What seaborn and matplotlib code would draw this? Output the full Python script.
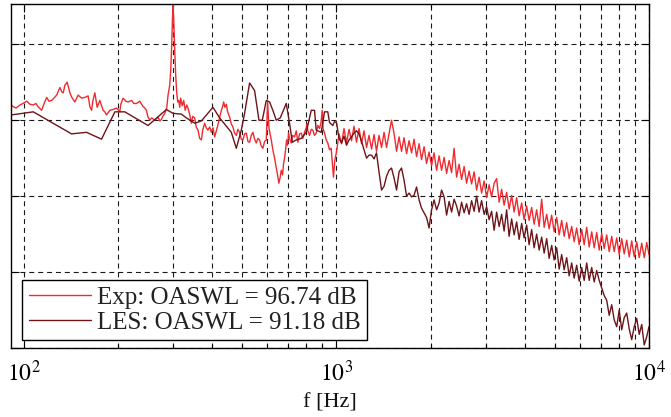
import numpy as np
import pandas as pd
import matplotlib
matplotlib.use("Agg")
import matplotlib.pyplot as plt
import seaborn as sns
from matplotlib.ticker import LogLocator, NullFormatter, FixedLocator

sns.set_theme(style="white")
plt.rcParams['font.family'] = ['Liberation Serif', 'DejaVu Serif']
plt.rcParams['mathtext.fontset'] = 'stix'

# ---------------- data ----------------
legend_labels = ["Exp: OASWL = 96.74 dB", "LES: OASWL = 91.18 dB"]

exp_low_freq = [90.2, 92.2, 94.3, 97.1, 99.3, 102.0, 104.5, 107.1, 109.2, 110.8,
                113.9, 115.8, 118.2, 120.2, 122.6, 124.7, 127.2, 130.3, 132.3, 133.6,
                135.2, 137.5, 140.3, 142.3, 145.5, 149.1, 152.9, 156.6, 160.5, 162.5,
                164.6, 166.2, 168.6, 171.5, 174.9, 177.5, 179.2, 181.5, 183.7, 188.3,
                192.4, 197.8, 202.6, 204.1, 207.6, 211.8, 215.4, 220.9, 224.6, 229.1,
                234.7, 240.5, 243.6, 246.6, 249.0, 252.7, 256.4, 262.2, 268.6, 272.0,
                275.4, 278.0, 282.2, 286.3, 289.1, 292.7, 294.9, 297.0, 298.6, 300.0,
                301.5, 303.7, 305.9, 308.2, 310.5, 312.8, 315.1, 317.4, 320.9, 324.5,
                328.1, 331.7, 334.9, 339.2, 343.4, 346.7, 351.8, 355.7, 360.5, 365.0,
                369.6, 373.2, 378.7, 382.9, 388.0, 392.9, 397.8, 402.5, 407.6, 412.7,
                417.7, 422.9, 428.2, 432.3, 435.5, 439.6, 444.2, 448.5, 455.1, 460.8,
                466.3, 472.1, 478.1, 483.7, 489.8, 496.0, 501.9, 508.2, 514.6, 520.7,
                527.2, 533.8, 540.3, 547.0, 553.9, 560.5, 567.5, 574.6, 581.4, 588.8,
                596.2, 602.0, 608.5, 618.5, 625.8, 633.7, 641.6, 647.8, 654.1, 659.8,
                665.8, 672.2, 677.2, 682.2, 687.3, 692.4, 697.5, 702.6, 707.7, 716.8,
                723.6, 734.4, 743.5, 752.4, 761.8, 771.3, 780.4, 790.3, 800.2, 805.0,
                809.7, 819.9, 830.3, 840.1, 850.6, 861.3, 871.6, 882.6, 892.4, 900.2,
                905.6, 915.7, 927.1, 938.1, 949.9, 961.8, 971.0, 978.1, 987.6]
exp_low_level = [62.2, 61.8, 61.6, 62.0, 62.2, 62.5, 62.1, 62.0, 62.2, 61.8,
                 61.3, 62.1, 63.0, 62.5, 62.6, 62.9, 63.3, 64.3, 63.7, 63.6,
                 64.6, 65.0, 63.6, 63.0, 62.4, 63.3, 62.9, 63.0, 63.2, 61.8,
                 61.3, 62.6, 63.6, 61.7, 62.6, 61.8, 61.3, 61.1, 60.7, 61.3,
                 61.4, 61.6, 61.1, 62.1, 62.9, 62.5, 62.4, 62.6, 62.2, 62.2,
                 62.5, 61.8, 61.6, 61.3, 60.5, 60.0, 60.3, 60.0, 60.4, 59.9,
                 60.1, 60.5, 60.9, 61.6, 63.3, 64.6, 66.6, 69.9, 73.2, 75.1,
                 73.2, 69.2, 65.9, 63.6, 62.4, 62.6, 61.7, 62.9, 61.9, 62.6,
                 61.3, 62.0, 61.6, 60.7, 59.6, 60.5, 60.3, 59.1, 58.7, 57.6,
                 57.4, 58.7, 59.6, 59.0, 58.7, 59.1, 58.4, 59.0, 57.8, 58.6,
                 59.4, 60.4, 61.3, 61.8, 62.4, 61.7, 62.1, 61.1, 60.4, 59.5,
                 59.1, 58.3, 58.0, 58.8, 58.4, 57.5, 57.4, 58.2, 58.3, 57.2,
                 57.1, 58.0, 58.4, 57.5, 57.0, 57.6, 57.4, 56.6, 56.3, 57.2,
                 57.4, 62.4, 58.9, 57.4, 56.1, 55.0, 53.8, 52.8, 51.7, 52.4,
                 53.4, 52.8, 54.3, 55.0, 56.1, 57.4, 56.7, 58.3, 57.6, 57.0,
                 58.0, 57.8, 58.6, 57.1, 58.2, 58.3, 57.6, 58.4, 59.0, 59.5,
                 58.6, 58.0, 58.8, 58.7, 58.0, 58.3, 59.3, 58.9, 59.7, 61.3,
                 58.9, 58.3, 57.4, 57.0, 56.1, 56.3, 54.1, 52.5, 54.7]

les_low_freq = [91.4, 107.1, 142.0, 158.6, 177.1, 195.4, 210.2, 249.5, 285.6, 300.0,
                319.0, 331.0, 351.8, 369.6, 402.5, 422.9, 460.8, 478.1, 496.0, 508.2,
                527.2, 547.0, 564.9, 579.0, 596.2, 610.8, 625.8, 641.6, 660.8, 690.8,
                707.7, 722.1, 743.5, 771.3, 800.2, 830.3, 850.6, 861.3, 893.6, 915.7,
                938.1, 949.9, 973.2, 985.4]
les_low_level = [60.7, 61.1, 58.2, 58.4, 57.5, 61.1, 61.1, 59.3, 61.4, 60.9,
                 60.8, 60.3, 59.6, 59.9, 61.7, 60.3, 58.4, 56.3, 58.7, 60.9,
                 64.9, 63.9, 60.0, 60.0, 62.6, 62.4, 61.3, 60.0, 60.3, 62.2,
                 59.6, 57.1, 57.4, 57.6, 58.4, 61.3, 61.3, 58.7, 58.4, 61.1,
                 61.1, 59.7, 59.3, 59.8]

hi_freq = [1000, 1019, 1038, 1057, 1077, 1097, 1117, 1138, 1159, 1181,
           1203, 1225, 1248, 1271, 1295, 1319, 1343, 1368, 1394, 1420,
           1446, 1473, 1500, 1528, 1557, 1586, 1615, 1645, 1676, 1707,
           1739, 1771, 1804, 1838, 1872, 1907, 1942, 1978, 2015, 2052,
           2091, 2130, 2169, 2210, 2251, 2293, 2335, 2379, 2423, 2468,
           2514, 2561, 2608, 2657, 2706, 2757, 2808, 2860, 2913, 2968,
           3023, 3079, 3136, 3195, 3254, 3315, 3376, 3439, 3503, 3568,
           3635, 3702, 3771, 3841, 3913, 3985, 4060, 4135, 4212, 4290,
           4370, 4452, 4534, 4619, 4705, 4792, 4881, 4972, 5065, 5159,
           5255, 5353, 5452, 5554, 5657, 5762, 5869, 5979, 6090, 6203,
           6319, 6436, 6556, 6678, 6802, 6929, 7057, 7189, 7322, 7459,
           7597, 7739, 7883, 8029, 8179, 8331, 8486, 8644, 8804, 8968,
           9135, 9305, 9478, 9654, 9834, 10000]
exp_hi_level = [55.8, 58.2, 56.9, 58.9, 57.0, 58.8, 57.3, 59.2, 57.1, 58.9,
                56.9, 58.6, 56.4, 58.0, 56.2, 58.1, 55.9, 58.0, 56.4, 58.4,
                56.4, 58.2, 60.0, 58.3, 55.9, 57.8, 55.9, 57.7, 55.6, 57.3,
                55.7, 57.5, 55.2, 56.9, 54.8, 56.5, 54.3, 55.8, 54.0, 55.7,
                53.4, 55.3, 53.4, 55.1, 53.0, 54.7, 53.1, 56.3, 52.5, 54.2,
                52.2, 53.9, 51.7, 53.3, 51.6, 53.2, 50.8, 52.5, 50.4, 52.0,
                49.8, 51.5, 49.9, 51.7, 52.3, 49.2, 50.9, 48.8, 50.5, 48.3,
                50.1, 47.9, 49.8, 47.4, 49.1, 46.9, 48.7, 46.8, 48.5, 46.3,
                48.2, 46.0, 49.6, 45.9, 47.6, 45.7, 47.5, 45.3, 47.2, 44.9,
                46.8, 44.7, 46.5, 44.4, 46.0, 44.0, 45.8, 43.6, 45.6, 43.6,
                45.9, 43.3, 45.3, 43.2, 45.2, 42.9, 45.1, 43.1, 44.9, 42.7,
                44.7, 42.7, 44.5, 42.3, 44.4, 42.4, 44.2, 42.0, 44.1, 42.0,
                44.0, 41.9, 43.8, 41.9, 43.9, 42.3]
les_hi_level = [59.7, 57.6, 57.0, 57.9, 56.7, 57.4, 57.8, 58.3, 58.6, 58.2,
                57.2, 56.1, 55.0, 55.4, 55.4, 54.9, 55.7, 53.2, 50.8, 51.3,
                52.6, 53.4, 53.7, 52.4, 50.8, 53.2, 53.7, 52.1, 50.0, 50.4,
                49.9, 50.1, 51.2, 49.5, 48.4, 47.8, 47.2, 45.8, 48.2, 49.5,
                48.2, 49.1, 50.8, 49.9, 47.5, 49.3, 47.9, 49.6, 48.7, 47.4,
                49.2, 47.8, 49.0, 47.6, 49.4, 48.0, 50.0, 47.9, 49.4, 47.6,
                48.6, 46.9, 48.0, 45.5, 47.9, 46.0, 47.6, 45.4, 48.2, 44.7,
                47.0, 44.9, 46.6, 44.3, 46.4, 44.5, 46.2, 43.6, 45.6, 43.2,
                45.0, 42.9, 44.6, 42.5, 44.4, 41.8, 43.5, 41.6, 43.2, 40.4,
                42.3, 40.3, 41.9, 39.5, 41.2, 39.2, 40.9, 38.8, 40.6, 38.9,
                41.2, 38.9, 40.6, 38.7, 40.2, 38.9, 37.9, 36.9, 36.3, 34.3,
                35.7, 33.7, 32.8, 35.0, 32.4, 34.0, 34.6, 32.5, 31.1, 32.8,
                33.9, 31.8, 33.1, 30.4, 31.5, 32.8]

x_ticks = [100, 1000, 10000]
x_tick_labels = ["$10^{2}$", "$10^{3}$", "$10^{4}$"]
y_grid = [30, 40, 50, 60, 70]

# ---------------- build table ----------------
df = pd.concat([
    pd.DataFrame({"f": exp_low_freq + hi_freq, "L": exp_low_level + exp_hi_level,
                  "series": legend_labels[0]}),
    pd.DataFrame({"f": les_low_freq + hi_freq, "L": les_low_level + les_hi_level,
                  "series": legend_labels[1]}),
], ignore_index=True)

red = "#ee2b30"
dark = "#6d1519"

fig = plt.figure(figsize=(6.71, 4.17), dpi=100)
ax = fig.add_axes([11 / 671, 1 - 348 / 417, 638 / 671, 344 / 417])
ax.set_xscale("log")

sns.lineplot(data=df, x="f", y="L", hue="series", palette=[red, dark],
             estimator=None, sort=False, linewidth=1.0, ax=ax)

ax.set_xlim(90.9, 10000)
ax.set_ylim(30, 75.3)

ax.xaxis.set_major_locator(FixedLocator(x_ticks))
ax.set_xticklabels(x_tick_labels)
ax.xaxis.set_minor_locator(LogLocator(base=10, subs=np.arange(2, 10)))
ax.xaxis.set_minor_formatter(NullFormatter())
ax.set_yticks(y_grid)
ax.tick_params(axis="both", which="both", direction="in", top=True, right=True,
               bottom=True, left=True, colors="black", labelleft=False)
ax.tick_params(axis="x", which="major", length=6, width=0.8, labelsize=17, pad=9)
ax.tick_params(axis="x", which="minor", length=3, width=0.8)
ax.tick_params(axis="y", which="major", length=6, width=0.8)

dash = (0, (4.5, 3.5))
ax.grid(True, axis="x", which="both", linestyle=dash, color="#1a1a1a", linewidth=0.8)
ax.grid(True, axis="y", which="major", linestyle=dash, color="#1a1a1a", linewidth=0.8)
ax.set_axisbelow(True)

for s in ax.spines.values():
    s.set_color("black")
    s.set_linewidth(1.0)
    s.set_visible(True)

ax.set_xlabel("f [Hz]", fontsize=16, color="#111111", labelpad=5)
ax.set_ylabel("")

handles, labels = ax.get_legend_handles_labels()
leg = ax.legend(handles, labels, loc="lower left", bbox_to_anchor=(0.018, 0.022),
                fontsize=18, frameon=True, fancybox=False, edgecolor="black",
                framealpha=1, handlelength=2.5, handletextpad=0.25,
                borderpad=0.25, labelspacing=0.1, borderaxespad=0)
leg.get_frame().set_linewidth(1.0)
for t in leg.get_texts():
    t.set_color("#222222")

fig.savefig("out.png", dpi=100)
